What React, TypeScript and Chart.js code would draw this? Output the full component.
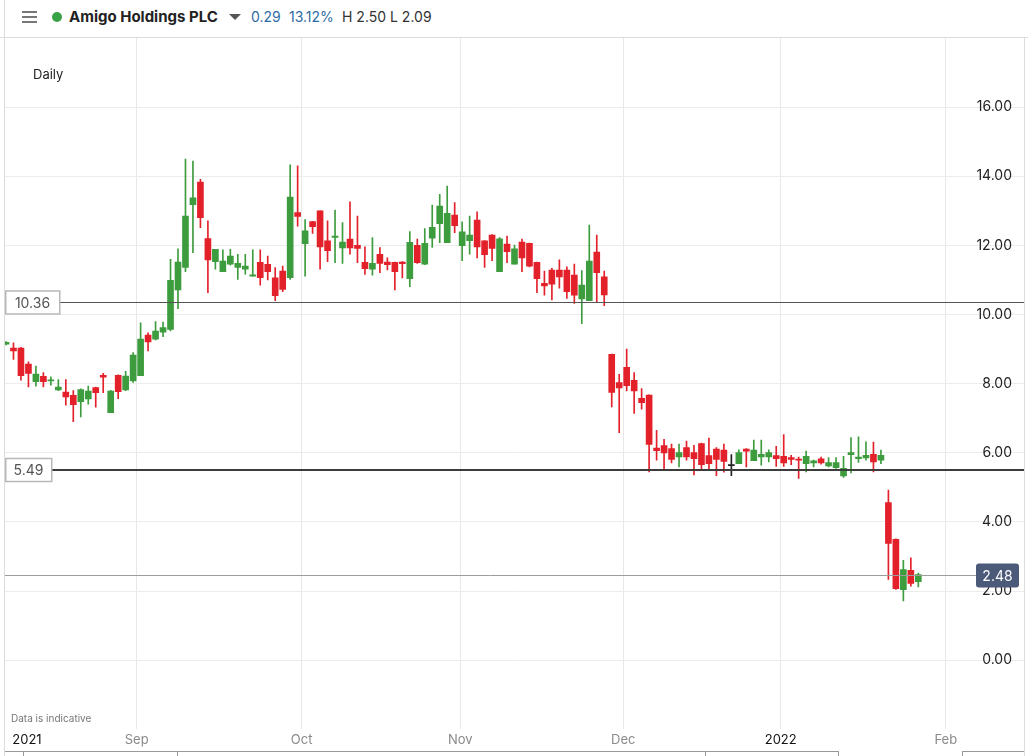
import { useEffect, useRef } from 'react';
import { Chart, registerables } from 'chart.js';
Chart.register(...registerables);

// ---- data (one entry per trading day) ----
const opens = [
  9.14, 9.03, 9.03, 8.57, 8.06, 8.21, 8.08, 7.82, 7.76, 7.66,
  7.48, 7.56, 7.89, 8.24, 7.16, 8.24, 7.82, 8.08, 8.23, 9.41,
  9.29, 9.49, 9.57, 10.71, 11.36, 13.18, 13.83, 12.20, 11.53, 11.24,
  11.46, 11.36, 11.31, 11.11, 11.51, 11.45, 11.06, 11.26, 11.07, 12.95,
  12.05, 12.69, 13.00, 12.13, 12.23, 11.93, 12.18, 12.00, 11.51, 11.31,
  11.74, 11.52, 11.51, 11.52, 11.04, 12.00, 11.46, 12.21, 12.63, 12.08,
  12.88, 11.99, 12.14, 12.73, 12.13, 12.30, 11.24, 12.04, 11.46, 12.10,
  12.06, 11.51, 10.90, 11.29, 11.29, 11.29, 11.14, 10.45, 10.40, 11.81,
  11.09, 8.85, 8.03, 8.47, 8.10, 7.58, 7.67, 6.14, 6.21, 6.12,
  5.88, 6.15, 6.01, 6.27, 5.92, 6.11, 6.08, 5.66, 5.69, 6.11,
  5.77, 5.88, 5.88, 5.92, 5.90, 5.86, 5.81, 5.69, 5.71, 5.83,
  5.62, 5.57, 5.33, 5.95, 5.83, 5.85, 5.96, 5.79, 4.56, 3.50,
  2.04, 2.60, 2.27,
];
const highs = [
  9.22, 9.18, 9.05, 8.63, 8.51, 8.32, 8.20, 8.12, 8.12, 7.80,
  7.85, 7.93, 7.90, 8.30, 7.81, 8.26, 8.36, 8.90, 9.76, 9.47,
  9.80, 9.78, 11.60, 11.90, 14.50, 14.44, 13.91, 12.71, 11.89, 11.87,
  11.89, 11.74, 11.74, 11.87, 11.87, 11.69, 11.36, 11.40, 14.33, 14.30,
  12.75, 12.70, 13.00, 12.71, 13.02, 12.66, 13.26, 12.85, 11.96, 12.23,
  11.94, 11.64, 11.52, 11.53, 12.40, 12.18, 12.49, 13.17, 13.48, 13.72,
  13.24, 12.68, 12.85, 12.97, 12.14, 12.31, 12.23, 12.27, 12.01, 12.18,
  12.07, 11.52, 11.26, 11.34, 11.58, 11.38, 11.46, 11.27, 12.59, 12.30,
  11.26, 8.86, 8.27, 9.00, 8.32, 7.86, 7.68, 6.65, 6.39, 6.25,
  6.25, 6.34, 6.22, 6.28, 6.43, 6.15, 6.25, 5.95, 6.09, 6.12,
  6.37, 6.37, 6.09, 6.19, 6.53, 5.93, 5.88, 6.05, 5.79, 5.88,
  5.86, 5.86, 5.90, 6.44, 6.46, 6.32, 6.31, 6.08, 4.92, 3.51,
  2.89, 2.96, 2.52,
];
const lows = [
  9.12, 8.70, 8.10, 7.91, 7.93, 7.91, 7.96, 7.80, 7.38, 6.90,
  7.04, 7.41, 7.32, 7.74, 7.16, 7.57, 7.80, 8.04, 8.23, 8.95,
  9.27, 9.36, 9.53, 10.17, 11.24, 11.79, 12.51, 10.63, 11.31, 11.24,
  11.43, 11.02, 11.17, 11.11, 10.85, 11.00, 10.40, 10.66, 11.02, 12.56,
  11.11, 12.35, 11.31, 11.53, 11.50, 11.48, 11.75, 11.50, 11.16, 11.14,
  11.21, 11.29, 10.71, 11.06, 10.81, 11.48, 11.44, 11.94, 12.08, 12.08,
  12.37, 11.56, 11.75, 11.64, 11.36, 11.56, 11.24, 11.50, 11.46, 11.24,
  11.38, 10.63, 10.56, 10.42, 10.76, 10.47, 10.32, 9.74, 10.40, 10.37,
  10.26, 7.33, 6.58, 7.79, 7.14, 7.26, 5.45, 5.79, 5.52, 5.71,
  5.59, 5.79, 5.36, 5.50, 5.50, 5.34, 5.44, 5.34, 5.69, 5.59,
  5.77, 5.64, 5.74, 5.61, 5.61, 5.66, 5.26, 5.45, 5.59, 5.67,
  5.59, 5.55, 5.29, 5.42, 5.72, 5.79, 5.45, 5.69, 2.34, 2.05,
  1.72, 2.14, 2.12,
];
const closes = [
  9.20, 8.95, 8.23, 8.30, 8.28, 8.06, 8.10, 7.90, 7.62, 7.39,
  7.83, 7.79, 7.74, 8.19, 7.79, 7.77, 8.22, 8.83, 9.29, 9.21,
  9.52, 9.62, 10.99, 11.52, 12.85, 13.38, 12.80, 11.58, 11.89, 11.55,
  11.69, 11.48, 11.40, 11.15, 11.07, 11.24, 10.55, 10.73, 13.40, 12.84,
  12.42, 12.54, 11.96, 11.85, 12.27, 12.10, 11.93, 11.91, 11.33, 11.48,
  11.48, 11.44, 11.24, 11.47, 12.09, 11.50, 12.06, 12.52, 13.14, 12.93,
  12.57, 12.39, 12.30, 11.96, 11.73, 11.91, 12.19, 11.82, 11.90, 11.64,
  11.40, 11.04, 10.83, 10.88, 11.09, 10.66, 10.56, 10.85, 11.55, 11.21,
  10.57, 7.75, 7.88, 7.94, 7.79, 7.45, 6.24, 6.06, 6.00, 5.81,
  6.01, 5.88, 5.83, 5.66, 5.69, 5.81, 5.75, 5.66, 6.01, 6.05,
  6.08, 5.96, 6.01, 5.83, 5.71, 5.81, 5.79, 5.90, 5.77, 5.71,
  5.72, 5.72, 5.55, 6.01, 5.88, 5.93, 5.74, 5.93, 3.38, 2.07,
  2.62, 2.22, 2.48,
];

// x positions of the axis labels, in trading-day units
const xTickValues = [2.8, 17.48, 39.54, 60.75, 82.55, 103.6, 125.67];
const xTickLabels = ['2021', 'Sep', 'Oct', 'Nov', 'Dec', '2022', 'Feb'];
const yearLabels = ['2021', '2022'];
const yTickValues = [0, 2, 4, 6, 8, 10, 12, 14, 16];
const levelValues = [10.36, 5.49, 2.48];

const RED = '#e3212a';
const GREEN = '#3d9c3e';
const DOJI = '#222222';
const FONT = 'Inter, "Noto Sans", sans-serif';

const candleColor = (i: number) =>
  closes[i] > opens[i] ? GREEN : closes[i] < opens[i] ? RED : DOJI;

const levelsPlugin = {
  id: 'levels',
  afterDraw(chart: any) {
    const { ctx, chartArea, scales } = chart;
    const y = scales.y;
    const [l1, l2, l3] = levelValues;
    ctx.save();
    ctx.font = `14px ${FONT}`;
    ctx.textBaseline = 'middle';
    ctx.textAlign = 'center';

    // 10.36
    let py = Math.round(y.getPixelForValue(l1)) + 0.5;
    ctx.strokeStyle = '#555';
    ctx.lineWidth = 1;
    ctx.beginPath();
    ctx.moveTo(chartArea.left + 55, py);
    ctx.lineTo(chartArea.right, py);
    ctx.stroke();
    ctx.fillStyle = '#fff';
    ctx.fillRect(chartArea.left, py - 12, 55, 24);
    ctx.strokeStyle = '#b8b8b8';
    ctx.lineWidth = 1.5;
    ctx.strokeRect(chartArea.left + 0.75, py - 11.5, 54, 23);
    ctx.fillStyle = '#555';
    ctx.fillText(l1.toFixed(2), chartArea.left + 27.5, py + 1);

    // 5.49
    py = Math.round(y.getPixelForValue(l2));
    ctx.strokeStyle = '#3c3c3c';
    ctx.lineWidth = 2;
    ctx.beginPath();
    ctx.moveTo(chartArea.left + 47, py);
    ctx.lineTo(chartArea.right, py);
    ctx.stroke();
    ctx.fillStyle = '#fff';
    ctx.fillRect(chartArea.left, py - 12, 47, 24);
    ctx.strokeStyle = '#b8b8b8';
    ctx.lineWidth = 1.5;
    ctx.strokeRect(chartArea.left + 0.75, py - 11.5, 46, 23);
    ctx.fillStyle = '#555';
    ctx.fillText(l2.toFixed(2), chartArea.left + 23.5, py + 1);

    // 2.48 (last price)
    py = Math.round(y.getPixelForValue(l3)) + 0.5;
    const bx = chartArea.right - 48;
    ctx.strokeStyle = '#9c9c9c';
    ctx.lineWidth = 1;
    ctx.beginPath();
    ctx.moveTo(chartArea.left, py);
    ctx.lineTo(bx, py);
    ctx.stroke();
    ctx.fillStyle = '#4b5a78';
    ctx.beginPath();
    (ctx as any).roundRect(bx, py - 12, 43, 24, 3);
    ctx.fill();
    ctx.fillStyle = '#fff';
    ctx.fillText(l3.toFixed(2), bx + 21.5, py + 1);
    ctx.restore();
  },
};

const PX_PER_DAY = 7.478;
const X_MIN = -1 / PX_PER_DAY;
const X_MAX = X_MIN + 1019 / PX_PER_DAY;

function CandleChart() {
  const ref = useRef<HTMLCanvasElement>(null);
  useEffect(() => {
    const idx = opens.map((_, i) => i);
    const colors = idx.map(candleColor);
    const chart = new Chart(ref.current!, {
      type: 'bar',
      data: {
        datasets: [
          {
            label: 'wick',
            data: idx.map((i) => ({ x: i, y: [lows[i], highs[i]] })) as any,
            backgroundColor: colors,
            barThickness: 1,
            grouped: false,
            borderWidth: 0,
          } as any,
          {
            label: 'body',
            data: idx.map((i) => ({ x: i, y: [opens[i], closes[i]] })) as any,
            backgroundColor: colors,
            barThickness: 6,
            minBarLength: 1,
            grouped: false,
            borderWidth: 0,
          } as any,
        ],
      },
      options: {
        animation: false,
        responsive: false,
        devicePixelRatio: 1,
        layout: { padding: { left: 5, right: 4, top: 10, bottom: 5 } },
        plugins: { legend: { display: false }, tooltip: { enabled: false } },
        scales: {
          x: {
            type: 'linear',
            min: X_MIN,
            max: X_MAX,
            offset: false,
            afterBuildTicks: (axis: any) => {
              axis.ticks = xTickValues.map((v) => ({ value: v }));
            },
            ticks: {
              autoSkip: false,
              maxRotation: 0,
              padding: 3,
              callback: (_v: any, i: number) => xTickLabels[i],
              color: (c: any) => (yearLabels.includes(xTickLabels[c.index]) ? '#111' : '#8a8a8a'),
              font: { family: FONT, size: 13 },
            },
            grid: {
              offset: false,
              drawTicks: false,
              color: (c: any) =>
                c.type === 'tick' && xTickLabels[c.index] === '2021' ? 'rgba(0,0,0,0)' : '#e8e8e8',
            },
            border: { display: false },
          },
          y: {
            type: 'linear',
            position: 'right',
            min: -2,
            max: 18,
            afterBuildTicks: (axis: any) => {
              axis.ticks = yTickValues.map((v) => ({ value: v }));
            },
            ticks: {
              mirror: true,
              padding: -12,
              color: '#222',
              font: { family: FONT, size: 14 },
              callback: (v: any) => Number(v).toFixed(2),
            },
            grid: { drawTicks: false, color: '#ececec' },
            border: { display: false },
          },
        },
      },
      plugins: [levelsPlugin],
    });
    return () => chart.destroy();
  }, []);
  return (
    <canvas
      ref={ref}
      width={1028}
      height={728}
      style={{ position: 'absolute', left: 0, top: 28, width: 1028, height: 728 }}
    />
  );
}

export default function App() {
  const abs = (s: any) => ({ position: 'absolute' as const, ...s });
  return (
    <div style={abs({ left: 0, top: 0, width: 1028, height: 756, background: '#fff', overflow: 'hidden', fontFamily: FONT })}>
      <CandleChart />
      {/* header */}
      <div style={abs({ left: 0, top: 37, width: 1028, height: 1, background: '#dcdcdc' })} />
      <div style={abs({ left: 4, top: 0, width: 1, height: 756, background: '#dcdcdc' })} />
      <div style={abs({ left: 1024, top: 37, width: 1, height: 719, background: '#dcdcdc' })} />
      <div style={abs({ left: 22, top: 11, width: 15, height: 2, background: '#777' })} />
      <div style={abs({ left: 22, top: 16, width: 15, height: 2, background: '#777' })} />
      <div style={abs({ left: 22, top: 21, width: 15, height: 2, background: '#777' })} />
      <div style={abs({ left: 52, top: 12, width: 10, height: 10, borderRadius: 5, background: '#38a346' })} />
      <div style={abs({ left: 69, top: 8, fontSize: 15, fontWeight: 700, color: '#222', lineHeight: '18px', whiteSpace: 'nowrap' })}>Amigo Holdings PLC</div>
      <div style={abs({ left: 229, top: 14, width: 0, height: 0, borderLeft: '6px solid transparent', borderRight: '6px solid transparent', borderTop: '6px solid #555' })} />
      <div style={abs({ left: 251, top: 8, fontSize: 14, color: '#2f6ca3', lineHeight: '18px', whiteSpace: 'nowrap' })}>0.29</div>
      <div style={abs({ left: 289, top: 8, fontSize: 14, color: '#2f6ca3', lineHeight: '18px', whiteSpace: 'nowrap' })}>13.12%</div>
      <div style={abs({ left: 342, top: 8, fontSize: 14, color: '#333', lineHeight: '18px', whiteSpace: 'nowrap' })}>H 2.50 L 2.09</div>
      {/* overlays */}
      <div style={abs({ left: 33, top: 66, fontSize: 13, color: '#222', lineHeight: '16px' })}>Daily</div>
      <div style={abs({ left: 11, top: 712, fontSize: 10, color: '#777', lineHeight: '12px', whiteSpace: 'nowrap' })}>Data is indicative</div>
      {/* bottom range bar */}
      <div style={abs({ left: 5, top: 751, width: 833, height: 1, background: '#999' })} />
      <div style={abs({ left: 962, top: 751, width: 62, height: 1, background: '#999' })} />
      <div style={abs({ left: 23, top: 751, width: 1, height: 5, background: '#999' })} />
      <div style={abs({ left: 177, top: 751, width: 1, height: 5, background: '#999' })} />
      <div style={abs({ left: 705, top: 751, width: 1, height: 5, background: '#999' })} />
      <div style={abs({ left: 838, top: 751, width: 1, height: 5, background: '#999' })} />
      <div style={abs({ left: 962, top: 751, width: 1, height: 5, background: '#999' })} />
    </div>
  );
}
